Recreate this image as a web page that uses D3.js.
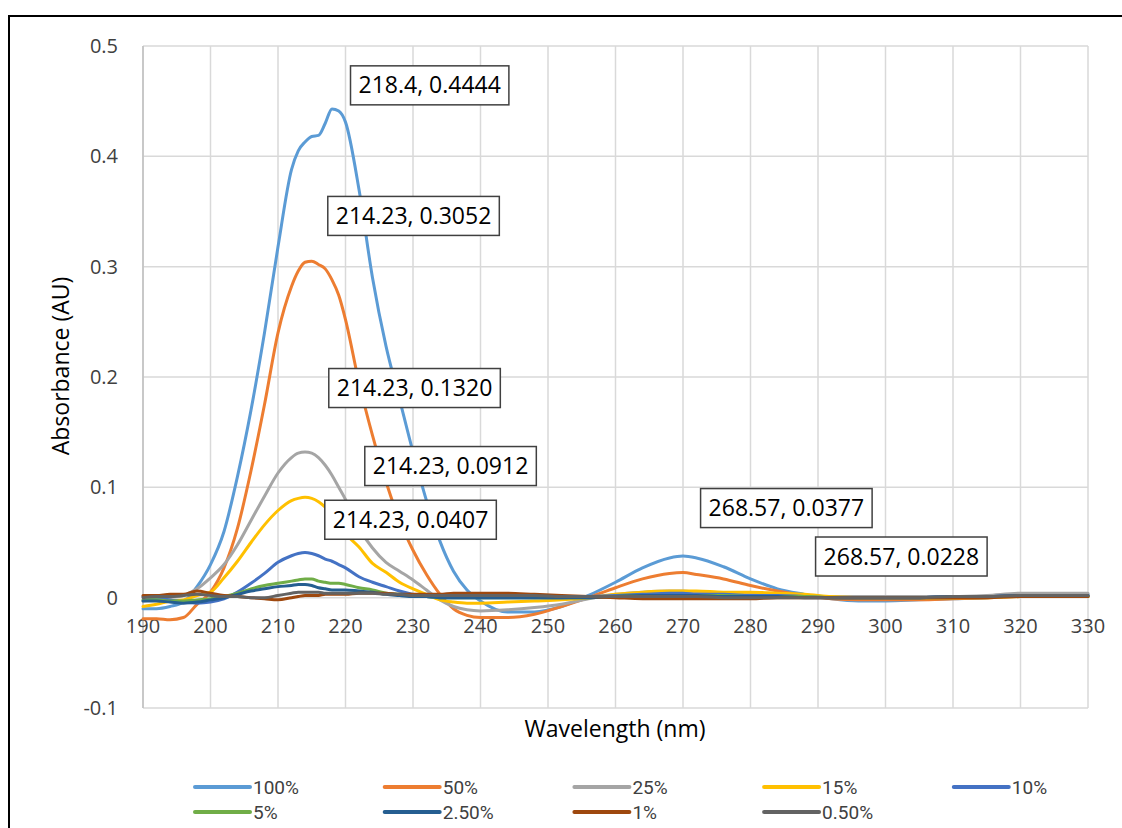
<!DOCTYPE html>
<html>
<head>
<meta charset="utf-8">
<script src="https://cdn.jsdelivr.net/npm/d3@7"></script>
<style>
  body { margin: 0; background: #fff; }
  text { font-family: "Open Sans", "DejaVu Sans", sans-serif; }
  .legend text { font-family: "Liberation Sans Narrow", "Roboto", sans-serif; }
</style>
</head>
<body>
<div id="chart"></div>
<script>
// wavelength (nm) shared by every series
var wavelengths = [190,192,194,196,198,200,202,204,206,208,210,212,213,214,215,216,217,218,219,220,
  222,224,226,228,230,232,234,236,238,240,244,248,252,256,260,264,268,270,272,276,
  280,284,288,292,296,300,305,310,315,320,325,330];

var seriesNames = ["100%", "50%", "25%", "15%", "10%", "5%", "2.50%", "1%", "0.50%"];
var seriesColors = ["#5B9BD5", "#ED7D31", "#A5A5A5", "#FFC000", "#4472C4", "#70AD47", "#255E91", "#9E480E", "#636363"];

var abs100 = [-0.010,-0.010,-0.008,-0.004,0.010,0.030,0.060,0.110,0.170,0.240,0.318,0.388,0.405,0.413,0.418,0.419,0.430,0.443,0.441,0.431,
  0.370,0.290,0.228,0.180,0.132,0.088,0.051,0.024,0.007,-0.003,-0.013,-0.013,-0.008,0.002,0.014,0.027,0.036,0.0377,0.036,0.028,
  0.017,0.008,0.003,-0.001,-0.003,-0.003,-0.002,-0.001,0.000,0.002,0.003,0.003];
var abs50 = [-0.019,-0.019,-0.020,-0.018,-0.006,0.005,0.027,0.063,0.115,0.175,0.240,0.282,0.296,0.304,0.305,0.302,0.298,0.288,0.274,0.252,
  0.195,0.147,0.105,0.070,0.043,0.021,0.003,-0.010,-0.016,-0.018,-0.018,-0.015,-0.008,0.000,0.009,0.017,0.022,0.0228,0.021,0.017,
  0.011,0.006,0.002,-0.001,-0.002,-0.002,-0.002,-0.001,0.000,0.001,0.001,0.001];
var abs25 = [-0.003,-0.002,0.000,0.002,0.008,0.018,0.030,0.048,0.070,0.092,0.113,0.127,0.131,0.132,0.131,0.127,0.120,0.111,0.100,0.089,
  0.063,0.045,0.032,0.024,0.016,0.007,-0.002,-0.008,-0.011,-0.012,-0.011,-0.009,-0.006,-0.001,0.003,0.005,0.006,0.006,0.005,0.004,
  0.003,0.003,0.002,0.001,0.001,0.001,0.001,0.001,0.002,0.004,0.004,0.004];
var abs15 = [-0.008,-0.006,-0.003,-0.002,0.002,0.005,0.018,0.033,0.050,0.066,0.079,0.088,0.090,0.091,0.090,0.087,0.082,0.075,0.066,0.058,
  0.046,0.031,0.023,0.014,0.008,0.003,-0.002,-0.004,-0.005,-0.005,-0.004,-0.003,-0.002,0.000,0.003,0.005,0.006,0.006,0.006,0.005,
  0.005,0.004,0.003,0.001,0.000,0.000,0.000,0.000,0.000,0.001,0.001,0.001];
var abs10 = [0.001,-0.001,-0.002,-0.004,-0.005,-0.004,-0.001,0.005,0.013,0.022,0.032,0.038,0.040,0.041,0.040,0.038,0.035,0.033,0.030,0.027,
  0.019,0.014,0.010,0.006,0.003,0.001,0.000,0.000,0.000,0.000,0.000,0.000,0.000,0.001,0.002,0.003,0.004,0.004,0.003,0.003,
  0.002,0.002,0.001,0.000,0.000,0.000,0.000,0.001,0.001,0.002,0.002,0.002];
var abs5 = [-0.002,-0.002,-0.003,-0.003,-0.002,-0.001,0.001,0.004,0.008,0.011,0.013,0.015,0.016,0.017,0.017,0.015,0.014,0.013,0.013,0.012,
  0.009,0.007,0.004,0.003,0.002,0.001,0.000,0.000,0.000,0.000,0.000,0.000,0.000,0.000,0.001,0.002,0.002,0.002,0.002,0.002,
  0.001,0.001,0.001,0.000,0.000,0.000,0.000,0.000,0.001,0.001,0.001,0.001];
var abs2_5 = [-0.003,-0.003,-0.004,-0.005,-0.004,-0.002,0.000,0.003,0.006,0.008,0.010,0.011,0.012,0.012,0.011,0.009,0.008,0.007,0.007,0.007,
  0.006,0.005,0.003,0.002,0.001,0.001,0.000,0.000,0.000,0.000,0.000,0.000,0.000,0.000,0.001,0.002,0.002,0.002,0.002,0.001,
  0.001,0.001,0.000,0.000,0.000,0.000,0.000,0.001,0.001,0.002,0.002,0.002];
var abs1 = [0.002,0.002,0.003,0.003,0.006,0.004,0.002,0.001,0.000,-0.001,-0.002,0.000,0.001,0.002,0.002,0.002,0.003,0.003,0.003,0.003,
  0.004,0.004,0.004,0.003,0.003,0.003,0.003,0.004,0.004,0.004,0.004,0.003,0.002,0.001,0.000,-0.001,-0.001,-0.001,-0.001,-0.001,
  -0.001,0.000,0.000,0.000,0.000,0.000,0.000,0.000,0.000,0.001,0.001,0.001];
var abs0_5 = [0.000,0.001,0.001,0.002,0.003,0.002,0.001,0.001,0.000,0.000,0.002,0.004,0.005,0.005,0.005,0.005,0.004,0.004,0.004,0.004,
  0.004,0.004,0.003,0.003,0.002,0.002,0.002,0.002,0.002,0.002,0.002,0.002,0.001,0.001,0.001,0.001,0.001,0.001,0.001,0.000,
  0.000,0.000,0.000,0.000,0.000,0.000,0.000,0.001,0.001,0.002,0.002,0.002];

var seriesValues = [abs100, abs50, abs25, abs15, abs10, abs5, abs2_5, abs1, abs0_5];

var xTicks = [190,200,210,220,230,240,250,260,270,280,290,300,310,320,330];
var yTicks = [-0.1, 0, 0.1, 0.2, 0.3, 0.4, 0.5];
var yTickLabels = ["-0.1", "0", "0.1", "0.2", "0.3", "0.4", "0.5"];

// data labels: wavelength, absorbance, text
var labelX = [218.4, 214.23, 214.23, 214.23, 214.23, 268.57, 268.57];
var labelY = [0.4444, 0.3052, 0.1320, 0.0912, 0.0407, 0.0377, 0.0228];
var labelText = ["218.4, 0.4444", "214.23, 0.3052", "214.23, 0.1320", "214.23, 0.0912", "214.23, 0.0407", "268.57, 0.0377", "268.57, 0.0228"];
// pixel offset of the label box centre from its point
var labelOffset = [[95,-22],[107,-45],[108,-64],[144,-31],[104,-33],[113,-48],[228,-16]];

var W = 1122, H = 828;
var plot = {left: 143, right: 1088, top: 46, bottom: 708};

var svg = d3.select("#chart").append("svg")
  .attr("width", W).attr("height", H);

// outer frame (cut off at the right and bottom like the source)
svg.append("rect")
  .attr("x", 9).attr("y", 16).attr("width", W).attr("height", H)
  .attr("fill", "none").attr("stroke", "#000").attr("stroke-width", 2);

var x = d3.scaleLinear().domain([190, 330]).range([plot.left, plot.right]);
var y = d3.scaleLinear().domain([-0.1, 0.5]).range([plot.bottom, plot.top]);

// gridlines
svg.append("g").selectAll("line").data(xTicks).enter().append("line")
  .attr("x1", d => x(d)).attr("x2", d => x(d))
  .attr("y1", plot.top).attr("y2", plot.bottom)
  .attr("stroke", "#d9d9d9").attr("stroke-width", 1.5);
svg.append("g").selectAll("line").data(yTicks).enter().append("line")
  .attr("x1", plot.left).attr("x2", plot.right)
  .attr("y1", d => y(d)).attr("y2", d => y(d))
  .attr("stroke", "#d9d9d9").attr("stroke-width", 1.5);

// left axis line
svg.append("line")
  .attr("x1", plot.left).attr("x2", plot.left)
  .attr("y1", plot.top).attr("y2", plot.bottom)
  .attr("stroke", "#bfbfbf").attr("stroke-width", 1.5);

// y tick labels
svg.append("g").selectAll("text").data(yTicks).enter().append("text")
  .attr("x", 118).attr("y", d => y(d)).attr("dy", "0.35em")
  .attr("text-anchor", "end").attr("font-size", 20).attr("fill", "#404040")
  .text((d, i) => yTickLabels[i]);

// x tick labels, just under the zero line
svg.append("g").selectAll("text").data(xTicks).enter().append("text")
  .attr("x", d => x(d)).attr("y", y(0) + 35)
  .attr("text-anchor", "middle").attr("font-size", 20).attr("fill", "#404040")
  .text(d => d);

// axis titles
svg.append("text")
  .attr("transform", "translate(69," + 366 + ") rotate(-90)")
  .attr("text-anchor", "middle").attr("font-size", 23).attr("fill", "#000")
  .text("Absorbance (AU)");
svg.append("text")
  .attr("x", 615).attr("y", 737)
  .attr("text-anchor", "middle").attr("font-size", 23).attr("fill", "#000")
  .text("Wavelength (nm)");

// series lines
var line = d3.line()
  .x((d, i) => x(wavelengths[i]))
  .y(d => y(d))
  .curve(d3.curveMonotoneX);

svg.append("g").selectAll("path").data(seriesValues).enter().append("path")
  .attr("d", line)
  .attr("fill", "none")
  .attr("stroke", (d, i) => seriesColors[i])
  .attr("stroke-width", 3)
  .attr("stroke-linejoin", "round")
  .attr("stroke-linecap", "round");

// data labels
var labels = svg.append("g").selectAll("g").data(labelText).enter().append("g")
  .attr("transform", (d, i) => "translate(" + (x(labelX[i]) + labelOffset[i][0]) + "," + (y(labelY[i]) + labelOffset[i][1]) + ")");
labels.append("text")
  .attr("text-anchor", "middle").attr("dy", "0.35em")
  .attr("font-size", 23).attr("fill", "#000")
  .text(d => d);
labels.each(function() {
  var g = d3.select(this);
  var bb = g.select("text").node().getBBox();
  g.insert("rect", "text")
    .attr("x", bb.x - 8).attr("y", -19.5)
    .attr("width", bb.width + 16).attr("height", 39)
    .attr("fill", "#fff").attr("stroke", "#404040").attr("stroke-width", 1.5);
});

// legend
var legend = svg.append("g").attr("class", "legend").selectAll("g")
  .data(seriesNames).enter().append("g")
  .attr("transform", (d, i) => "translate(" + (195 + (i % 5) * 189.7) + "," + (787 + Math.floor(i / 5) * 25) + ")");
legend.append("line")
  .attr("x1", 0).attr("x2", 55)
  .attr("stroke", (d, i) => seriesColors[i]).attr("stroke-width", 4)
  .attr("stroke-linecap", "round");
legend.append("text")
  .attr("x", 58).attr("dy", "0.35em")
  .attr("font-size", 19).attr("fill", "#404040")
  .text(d => d);
</script>
</body>
</html>
